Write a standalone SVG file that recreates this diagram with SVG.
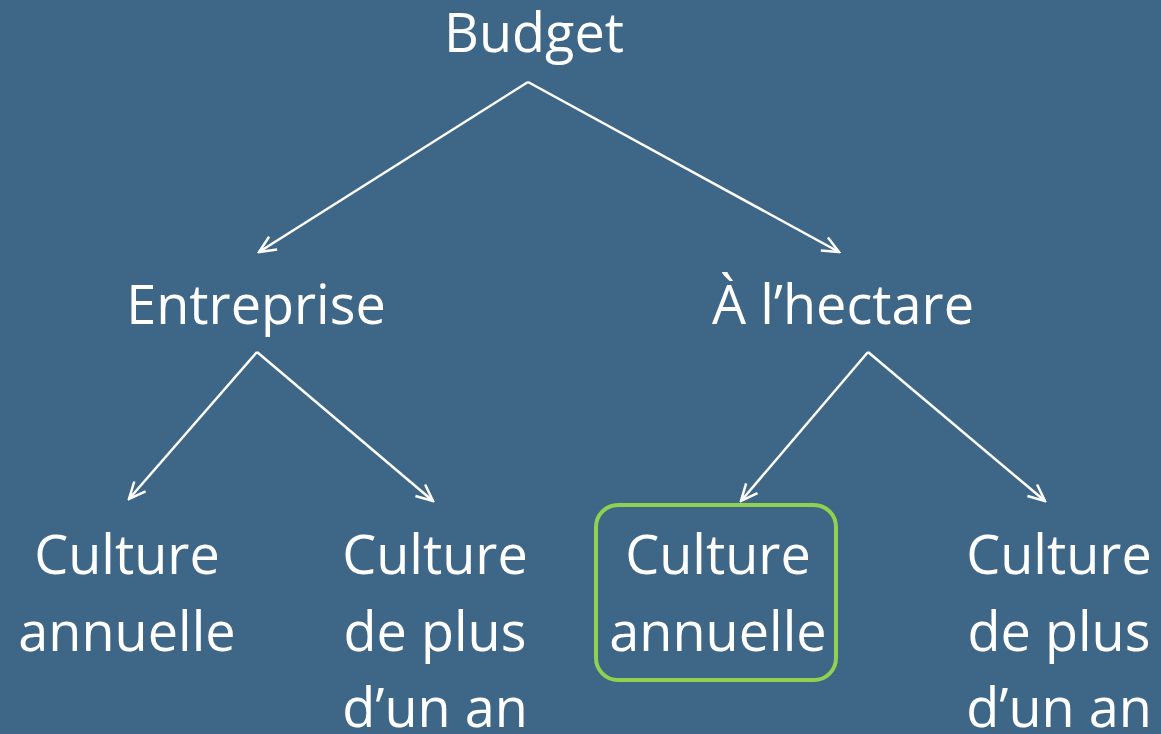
<svg xmlns="http://www.w3.org/2000/svg" width="1161" height="734" viewBox="0 0 1161 734">
<style>
text{font-family:"Open Sans","Liberation Sans",sans-serif;font-size:54px;fill:#fff;text-anchor:middle}
.c{stroke:#fff;stroke-width:2.5;fill:none}
</style>
<defs>
<marker id="a" viewBox="0 0 12 12" refX="11" refY="6" markerWidth="20" markerHeight="20" markerUnits="userSpaceOnUse" orient="auto">
<path d="M1,1.5 L11,6 L1,10.5" fill="none" stroke="#fff" stroke-width="1.5"/>
</marker>
</defs>
<rect width="1161" height="734" fill="#3D6687"/>
<g id="connectors">
<line class="c" x1="528" y1="82" x2="259" y2="252" marker-end="url(#a)"/>
<line class="c" x1="528" y1="82" x2="839" y2="252" marker-end="url(#a)"/>
<line class="c" x1="257" y1="352" x2="129" y2="499" marker-end="url(#a)"/>
<line class="c" x1="257" y1="352" x2="433" y2="501" marker-end="url(#a)"/>
<line class="c" x1="868" y1="352" x2="741" y2="501" marker-end="url(#a)"/>
<line class="c" x1="868" y1="352" x2="1045" y2="501" marker-end="url(#a)"/>
</g>
<g id="budget"><text x="534" y="52">Budget</text></g>
<g id="entreprise"><text x="256" y="324">Entreprise</text></g>
<g id="hectare"><text x="843" y="324">À l’hectare</text></g>
<g id="ent-annuelle"><text x="127" y="574">Culture</text><text x="127" y="651">annuelle</text></g>
<g id="ent-plus"><text x="435" y="574">Culture</text><text x="435" y="651">de plus</text><text x="435" y="727">d’un an</text></g>
<g id="hec-annuelle"><rect x="596" y="505" width="240" height="175" rx="22" fill="none" stroke="#92D050" stroke-width="4"/><text x="718" y="574">Culture</text><text x="718" y="651">annuelle</text></g>
<g id="hec-plus"><text x="1059" y="574">Culture</text><text x="1059" y="651">de plus</text><text x="1059" y="727">d’un an</text></g>
</svg>
